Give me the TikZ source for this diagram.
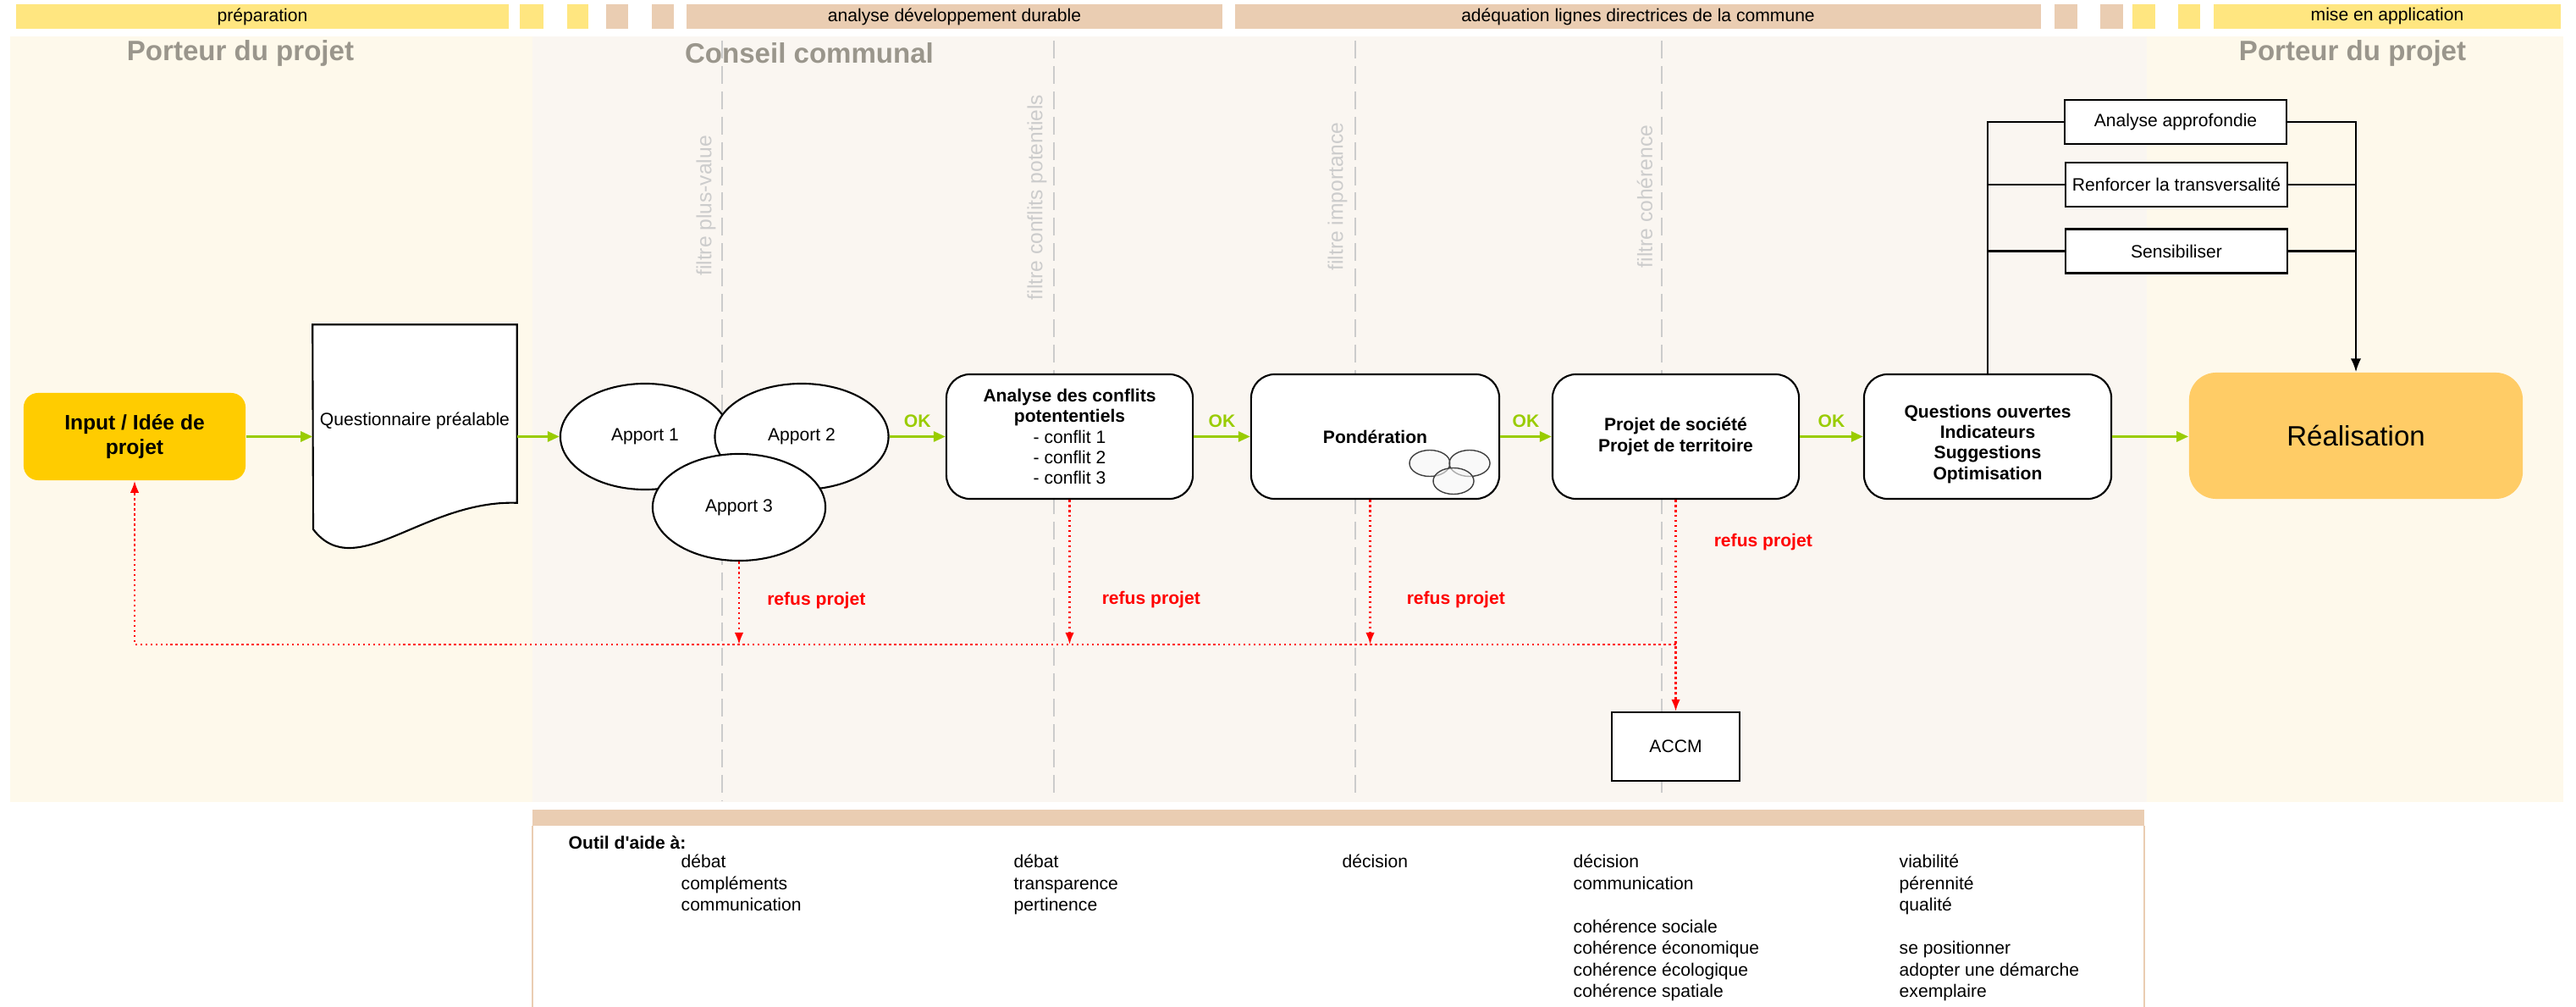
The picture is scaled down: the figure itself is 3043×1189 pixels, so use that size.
\documentclass[tikz,border=0pt]{standalone}
\usepackage{fontspec}
\setmainfont{Liberation Sans}[Ligatures=TeXOff]
\usetikzlibrary{shapes.geometric,arrows.meta,calc}
\definecolor{barY}{HTML}{FFE680}
\definecolor{barT}{HTML}{EACDB2}
\definecolor{laneY}{HTML}{FEF9EB}
\definecolor{laneC}{HTML}{FAF6F1}
\definecolor{okgreen}{HTML}{99CC00}
\definecolor{inputY}{HTML}{FFCC00}
\definecolor{realY}{HTML}{FFCC66}
\definecolor{titleG}{HTML}{9A968C}
\definecolor{filtG}{HTML}{CCCCCC}
\newcommand\fsn{\fontsize{6pt}{6.9pt}\selectfont}
\newcommand\fsb{\fontsize{6pt}{7.25pt}\selectfont}
\begin{document}
\begin{tikzpicture}[x=0.01cm,y=-0.01cm,
  every node/.style={inner sep=0pt,font=\fsn},
  hbar/.style={minimum height=0.29cm},
  lanetitle/.style={font=\fontsize{9.4pt}{11pt}\selectfont\bfseries,text=titleG},
  filtline/.style={draw=filtG,line width=0.5pt,dash pattern=on 6pt off 2.5pt},
  filtlab/.style={rotate=90,text=filtG,font=\fontsize{7pt}{8pt}\selectfont},
  rbox/.style={draw=black,line width=0.6pt,fill=white,rounded corners=0.28cm,minimum width=2.91cm,minimum height=1.47cm,align=center},
  sbox/.style={draw=black,line width=0.6pt,fill=white,minimum width=2.62cm,minimum height=0.52cm},
  apport/.style={ellipse,draw=black,line width=0.6pt,fill=white},
  okarrow/.style={draw=okgreen,line width=0.85pt,-{Triangle[length=4pt,width=3.4pt]}},
  oklab/.style={text=okgreen,font=\fsn\bfseries,above=0.09cm},
  refus/.style={draw=red,line width=0.7pt,densely dotted},
  refusarrow/.style={refus,-{Latex[length=4pt,width=3pt]}},
  refuslab/.style={text=red,font=\fsn\bfseries,anchor=west},
  bus/.style={draw=black,line width=0.6pt},
  btxt/.style={anchor=west,font=\fsb,text height=0.75em,text depth=0.2em}
]
\useasboundingbox (0,0) rectangle (3043,1189);
\fill[white] (0,0) rectangle (3043,1189);
% lanes
\fill[laneY] (12,43) rectangle (629,947);
\fill[laneC] (629,43) rectangle (2536,947);
\fill[laneY] (2536,43) rectangle (3028,947);
% filter lines
\draw[filtline] (853,48) -- (853,945);
\draw[filtline] (1245,48) -- (1245,938);
\draw[filtline] (1601,48) -- (1601,938);
\draw[filtline] (1963,48) -- (1963,938);
\node[filtlab] (f1) at (834,243) {filtre plus-value};
\node[filtlab] (f2) at (1225,233) {filtre conflits potentiels};
\node[filtlab] (f3) at (1580,232) {filtre importance};
\node[filtlab] (f4) at (1943,232) {filtre cohérence};
% header bars
\node[hbar,fill=barY,minimum width=5.82cm] (hprep) at (310,19.5) {préparation};
\node[hbar,fill=barY,minimum width=0.28cm] (sq1) at (628,19.5) {};
\node[hbar,fill=barY,minimum width=0.25cm] (sq2) at (682.5,19.5) {};
\node[hbar,fill=barT,minimum width=0.26cm] (sq3) at (729,19.5) {};
\node[hbar,fill=barT,minimum width=0.26cm] (sq4) at (783,19.5) {};
\node[hbar,fill=barT,minimum width=6.33cm] (hana) at (1127.5,19.5) {analyse développement durable};
\node[hbar,fill=barT,minimum width=9.52cm] (hade) at (1935,19.5) {adéquation lignes directrices de la commune};
\node[hbar,fill=barT,minimum width=0.27cm] (sq5) at (2440.5,19.5) {};
\node[hbar,fill=barT,minimum width=0.27cm] (sq6) at (2494.5,19.5) {};
\node[hbar,fill=barY,minimum width=0.27cm] (sq7) at (2532.5,19.5) {};
\node[hbar,fill=barY,minimum width=0.26cm] (sq8) at (2586,19.5) {};
\node[hbar,fill=barY,minimum width=4.10cm] (hmise) at (2820,19.5) {mise en application};
% lane titles
\node[lanetitle] (t1) at (284,63) {Porteur du projet};
\node[lanetitle] (t2) at (956,63) {Conseil communal};
\node[lanetitle] (t3) at (2779,63) {Porteur du projet};
% main nodes
\node[fill=inputY,rounded corners=0.17cm,minimum width=2.62cm,minimum height=1.03cm,align=center,font=\fontsize{7pt}{8pt}\selectfont\bfseries] (input) at (159,515.5) {Input / Idée de\\projet};
\node[minimum width=2.4cm,minimum height=2.09cm] (quest) at (490,488.5) {};
\draw[black,line width=0.6pt,fill=white] (quest.north west) -- (quest.north east) -- (quest.south east)
  .. controls (500,590) and (420,690) .. (370,625) -- cycle;
\node (qtext) at (490,497) {Questionnaire préalable};
\node[apport,minimum width=2cm,minimum height=1.25cm] (a1) at (762,515.5) {Apport 1};
\node[apport,minimum width=2.05cm,minimum height=1.25cm] (a2) at (947,515.5) {Apport 2};
\node[apport,minimum width=2.04cm,minimum height=1.26cm] (a3) at (873,599) {Apport 3};
\node[rbox] (analyse) at (1263.5,515.5) {\textbf{Analyse des conflits}\\\textbf{potententiels}\\- conflit 1\\- conflit 2\\- conflit 3};
\node[rbox,minimum width=2.93cm] (pond) at (1624.5,515.5) {\textbf{Pondération}};
\begin{scope}[fill=gray!8,fill opacity=0.6,draw=black!75,line width=0.4pt]
\filldraw (1689,547) ellipse [x radius=0.24cm,y radius=0.155cm];
\filldraw (1736,547) ellipse [x radius=0.24cm,y radius=0.155cm];
\filldraw (1717,568) ellipse [x radius=0.24cm,y radius=0.155cm];
\end{scope}
\node[rbox] (projet) at (1979.5,515.5) {\textbf{Projet de société}\\\textbf{Projet de territoire}};
\node[rbox,minimum width=2.92cm,font=\fsn\bfseries] (questions) at (2348,515.5) {\mbox{}\\[2.5pt]Questions ouvertes\\Indicateurs\\Suggestions\\Optimisation};
\node[fill=realY,rounded corners=0.32cm,minimum width=3.94cm,minimum height=1.49cm,font=\fontsize{9.4pt}{11pt}\selectfont] (real) at (2783,514.5) {Réalisation};
\node[draw=black,line width=0.6pt,fill=white,minimum width=1.51cm,minimum height=0.81cm] (accm) at (1979.5,881.5) {ACCM};
% top boxes
\node[sbox] (aa) at (2570,144) {Analyse approfondie};
\node[sbox] (rt) at (2571,218) {Renforcer la transversalité};
\node[sbox] (sb) at (2571,296.5) {Sensibiliser};
\draw[bus] (questions.north) -- (questions.north |- aa.west) -- (aa.west);
\draw[bus] (questions.north |- rt.west) -- (rt.west);
\draw[bus] (questions.north |- sb.west) -- (sb.west);
\draw[bus,-{Latex[length=4.5pt,width=3.5pt]}] (aa.east) -- (aa.east -| real.north) -- (real.north);
\draw[bus] (rt.east) -- (rt.east -| real.north);
\draw[bus] (sb.east) -- (sb.east -| real.north);
% green arrows
\draw[okarrow] (input.east) -- (input.east -| quest.west);
\draw[okarrow] (quest.east |- input.east) -- (a1.west);
\draw[okarrow] (a2.east) -- (analyse.west) node[midway,oklab] {OK};
\draw[okarrow] (analyse.east) -- (pond.west) node[midway,oklab] {OK};
\draw[okarrow] (pond.east) -- (projet.west) node[midway,oklab] {OK};
\draw[okarrow] (projet.east) -- (questions.west) node[midway,oklab] {OK};
\draw[okarrow] (questions.east) -- (questions.east -| real.west);
% refusals
\coordinate (retY) at (0,761);
\draw[refusarrow] (a3.south) -- (a3.south |- retY) node[refuslab,pos=0.465,xshift=0.32cm] {refus projet};
\draw[refusarrow] (analyse.south) -- (analyse.south |- retY) node[refuslab,pos=0.69,xshift=0.37cm] {refus projet};
\draw[refusarrow] ([xshift=-0.06cm]pond.south) -- ([xshift=-0.06cm]pond.south |- retY) node[refuslab,pos=0.69,xshift=0.42cm] {refus projet};
\draw[refusarrow] (projet.south) -- (accm.north) node[refuslab,pos=0.2,xshift=0.44cm] {refus projet};
\draw[refusarrow] (projet.south |- retY) -- (input.south |- retY) -- (input.south);
% bottom panel
\fill[barT] (629,956) rectangle (2533,975);
\draw[barT,line width=0.5pt] (629,975) -- (629,1189);
\draw[barT,line width=0.5pt] (2533,975) -- (2533,1189);
\node[btxt,font=\fsb\bfseries] (outil) at (671,993) {Outil d'aide à:};
\foreach \yy/\lbl [count=\i] in {0/débat,1/compléments,2/communication}
  \node[btxt] (ca-\i) at (804,{1015+25.5*\yy}) {\lbl};
\foreach \yy/\lbl [count=\i] in {0/débat,1/transparence,2/pertinence}
  \node[btxt] (cb-\i) at (1197,{1015+25.5*\yy}) {\lbl};
\node[btxt] (cc-1) at (1585,1015) {décision};
\foreach \yy/\lbl [count=\i] in {0/décision,1/communication,3/cohérence sociale,4/cohérence économique,5/cohérence écologique,6/cohérence spatiale}
  \node[btxt] (cd-\i) at (1858,{1015+25.5*\yy}) {\lbl};
\foreach \yy/\lbl [count=\i] in {0/viabilité,1/pérennité,2/qualité,4/se positionner,5/adopter une démarche,6/exemplaire}
  \node[btxt] (ce-\i) at (2243,{1015+25.5*\yy}) {\lbl};
\end{tikzpicture}
\end{document}
